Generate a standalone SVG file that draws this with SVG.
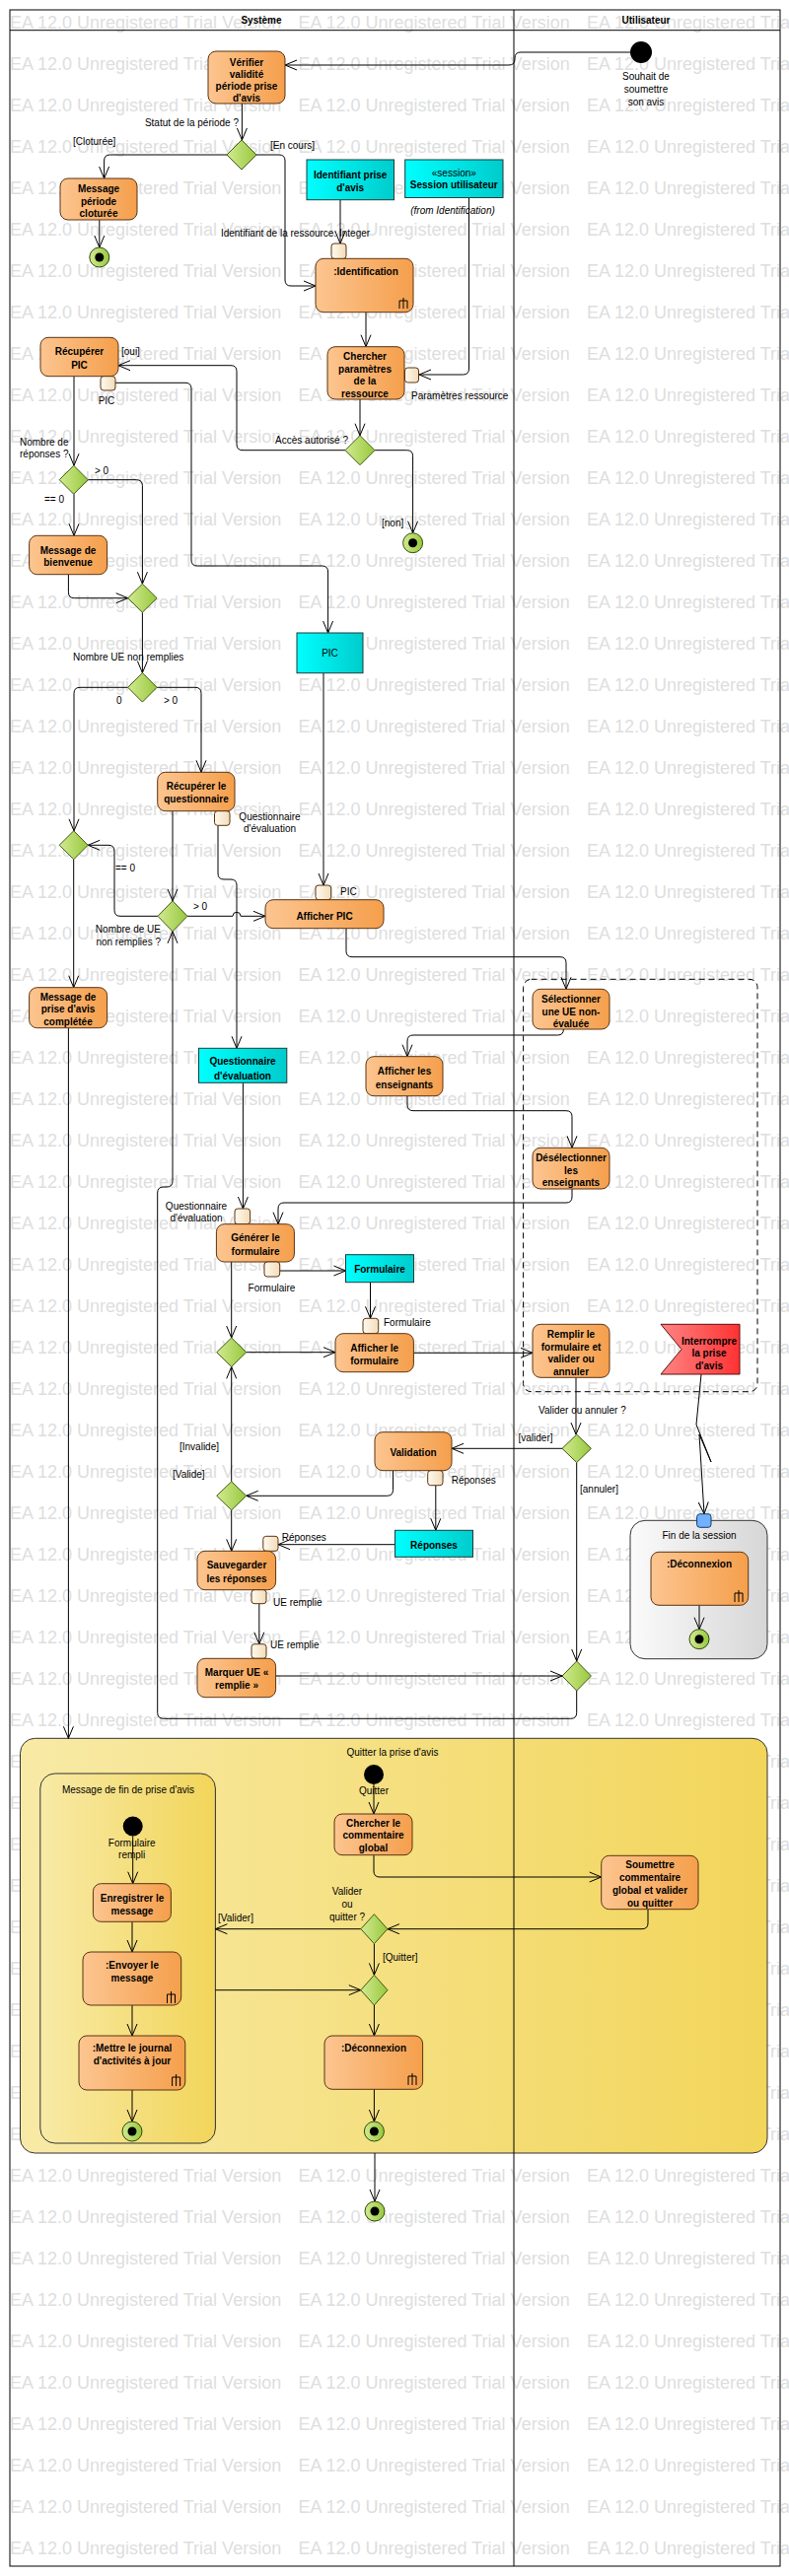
<svg xmlns="http://www.w3.org/2000/svg" xmlns:xlink="http://www.w3.org/1999/xlink" width="800" height="2613" viewBox="0 0 800 2613">
<style>
.act{fill:url(#gOr);stroke:#5a3412;stroke-width:1}
.obj{fill:url(#gCy);stroke:#1d3b3b;stroke-width:1}
.dec{fill:url(#gGr);stroke:#3d5a10;stroke-width:1}
.pin{fill:url(#gPin);stroke:#5a3412;stroke-width:1}
.fin{fill:url(#gGr);stroke:#2e4a0c;stroke-width:1}
.ln{fill:none;stroke:#000;stroke-width:1;marker-end:url(#arr)}
.rk{fill:none;stroke:#000;stroke-width:1}
text{font-family:"Liberation Sans",Arial,sans-serif;font-size:10px;fill:#000}
.b{font-weight:bold}
.c{text-anchor:middle}
.e{text-anchor:end}
.i{font-style:italic}
text.wmt{font-size:18px;fill:#dedede}
</style>
<defs>
<linearGradient id="gOr" x1="0" y1="0" x2="1" y2="0"><stop offset="0" stop-color="#fcc590"/><stop offset="1" stop-color="#f59f4c"/></linearGradient>
<linearGradient id="gCy" x1="0" y1="0" x2="1" y2="0"><stop offset="0" stop-color="#00ffff"/><stop offset="1" stop-color="#00cccc"/></linearGradient>
<linearGradient id="gGr" x1="0" y1="0" x2="1" y2="0"><stop offset="0" stop-color="#d2ea90"/><stop offset="1" stop-color="#98c83e"/></linearGradient>
<linearGradient id="gPin" x1="0" y1="0" x2="1" y2="0"><stop offset="0" stop-color="#fffaf0"/><stop offset="1" stop-color="#f2dcb8"/></linearGradient>
<linearGradient id="gYe" x1="0" y1="0" x2="1" y2="0"><stop offset="0" stop-color="#f8eaa6"/><stop offset="1" stop-color="#f2d55a"/></linearGradient>
<linearGradient id="gGy" x1="0" y1="0" x2="1" y2="0"><stop offset="0" stop-color="#fbfbfb"/><stop offset="1" stop-color="#d6d6d6"/></linearGradient>
<linearGradient id="gRd" x1="0" y1="0" x2="1" y2="0"><stop offset="0" stop-color="#ff8484"/><stop offset="1" stop-color="#ff3232"/></linearGradient>
<marker id="arr" markerWidth="14" markerHeight="12" refX="13" refY="6" orient="auto" markerUnits="userSpaceOnUse"><path d="M1,1 L13,6 L1,11" fill="none" stroke="#000" stroke-width="1"/></marker>
<g id="wmrow"><text class="wmt" x="10" font-size="18" fill="#dedede">EA 12.0 Unregistered Trial Version</text><text class="wmt" x="302.5" font-size="18" fill="#dedede">EA 12.0 Unregistered Trial Version</text><text class="wmt" x="595" font-size="18" fill="#dedede">EA 12.0 Unregistered Trial Version</text></g>
</defs>
<rect width="800" height="2613" fill="#ffffff"/>
<g id="watermark">
<use xlink:href="#wmrow" y="29.3"/><use xlink:href="#wmrow" y="71.3"/><use xlink:href="#wmrow" y="113.3"/><use xlink:href="#wmrow" y="155.3"/><use xlink:href="#wmrow" y="197.3"/><use xlink:href="#wmrow" y="239.3"/><use xlink:href="#wmrow" y="281.3"/><use xlink:href="#wmrow" y="323.3"/><use xlink:href="#wmrow" y="365.3"/><use xlink:href="#wmrow" y="407.3"/><use xlink:href="#wmrow" y="449.3"/><use xlink:href="#wmrow" y="491.3"/><use xlink:href="#wmrow" y="533.3"/><use xlink:href="#wmrow" y="575.3"/><use xlink:href="#wmrow" y="617.3"/><use xlink:href="#wmrow" y="659.3"/><use xlink:href="#wmrow" y="701.3"/><use xlink:href="#wmrow" y="743.3"/><use xlink:href="#wmrow" y="785.3"/><use xlink:href="#wmrow" y="827.3"/><use xlink:href="#wmrow" y="869.3"/><use xlink:href="#wmrow" y="911.3"/><use xlink:href="#wmrow" y="953.3"/><use xlink:href="#wmrow" y="995.3"/><use xlink:href="#wmrow" y="1037.3"/><use xlink:href="#wmrow" y="1079.3"/><use xlink:href="#wmrow" y="1121.3"/><use xlink:href="#wmrow" y="1163.3"/><use xlink:href="#wmrow" y="1205.3"/><use xlink:href="#wmrow" y="1247.3"/><use xlink:href="#wmrow" y="1289.3"/><use xlink:href="#wmrow" y="1331.3"/><use xlink:href="#wmrow" y="1373.3"/><use xlink:href="#wmrow" y="1415.3"/><use xlink:href="#wmrow" y="1457.3"/><use xlink:href="#wmrow" y="1499.3"/><use xlink:href="#wmrow" y="1541.3"/><use xlink:href="#wmrow" y="1583.3"/><use xlink:href="#wmrow" y="1625.3"/><use xlink:href="#wmrow" y="1667.3"/><use xlink:href="#wmrow" y="1709.3"/><use xlink:href="#wmrow" y="1751.3"/><use xlink:href="#wmrow" y="1793.3"/><use xlink:href="#wmrow" y="1835.3"/><use xlink:href="#wmrow" y="1877.3"/><use xlink:href="#wmrow" y="1919.3"/><use xlink:href="#wmrow" y="1961.3"/><use xlink:href="#wmrow" y="2003.3"/><use xlink:href="#wmrow" y="2045.3"/><use xlink:href="#wmrow" y="2087.3"/><use xlink:href="#wmrow" y="2129.3"/><use xlink:href="#wmrow" y="2171.3"/><use xlink:href="#wmrow" y="2213.3"/><use xlink:href="#wmrow" y="2255.3"/><use xlink:href="#wmrow" y="2297.3"/><use xlink:href="#wmrow" y="2339.3"/><use xlink:href="#wmrow" y="2381.3"/><use xlink:href="#wmrow" y="2423.3"/><use xlink:href="#wmrow" y="2465.3"/><use xlink:href="#wmrow" y="2507.3"/><use xlink:href="#wmrow" y="2549.3"/><use xlink:href="#wmrow" y="2591.3"/>
</g>

<g id="quitter_prise_avis">
<rect x="20.5" y="1763.3" width="757.5" height="420.7" rx="15" fill="url(#gYe)" stroke="#333" stroke-width="1"/>
<text x="398" y="1780.8" class="c">Quitter la prise d'avis</text>
</g>
<g id="message_fin_prise_avis">
<rect x="40.8" y="1799" width="177.6" height="375" rx="15" fill="url(#gYe)" stroke="#333" stroke-width="1"/>
<text x="130" y="1818.5" class="c">Message de fin de prise d'avis</text>
</g>
<g id="fin_session">
<rect x="639" y="1542.3" width="139" height="140.4" rx="15" fill="url(#gGy)" stroke="#333" stroke-width="1"/>
<text x="709" y="1561.2" class="c">Fin de la session</text>
</g>
<g id="region_interruptible">
<rect x="530.6" y="993.3" width="237.4" height="418.4" rx="8" fill="none" stroke="#000" stroke-width="1" stroke-dasharray="6,4"/>
</g>

<g id="lanes">
<rect x="10" y="10" width="781" height="2593" fill="none" stroke="#000" stroke-width="1"/>
<line x1="10" y1="30.7" x2="791" y2="30.7" stroke="#000"/>
<line x1="521" y1="10" x2="521" y2="2603" stroke="#000"/>
<text x="265" y="23.5" class="c b">Système</text>
<text x="655" y="23.5" class="c b">Utilisateur</text>
</g>

<g id="connectors">
<path class="ln" d="M639,53 H528 Q522,53 522,59 V60 Q522,66 516,66 H289"/>
<path class="ln" d="M245.4,105 V142"/>
<path class="ln" d="M230,157 H111.6 Q105.6,157 105.6,163 V181"/>
<path class="ln" d="M260,157 H283 Q289,157 289,163 V284 Q289,290 295,290 H320"/>
<path class="ln" d="M100.8,222.7 V251"/>
<path class="ln" d="M345,202.7 V247"/>
<path class="ln" d="M371,316.7 V351.7"/>
<path class="ln" d="M475.5,200.7 V374 Q475.5,380 469.5,380 H425"/>
<path class="ln" d="M365,405 V441.7"/>
<path class="ln" d="M380,456.7 H412.6 Q418.6,456.7 418.6,462.7 V540.7"/>
<path class="ln" d="M350,456.7 H246 Q240,456.7 240,450.7 V376.7 Q240,370.7 234,370.7 H120"/>
<path class="ln" d="M75,381.7 V472.2"/>
<path class="ln" d="M89.2,486.7 H138.4 Q144.4,486.7 144.4,492.7 V592.2"/>
<path class="ln" d="M75,501.2 V543.3"/>
<path class="ln" d="M69.4,582.7 V600.7 Q69.4,606.7 75.4,606.7 H129.7"/>
<path class="ln" d="M144.4,621.2 V682.5"/>
<path class="ln" d="M117,388.3 H188 Q194,388.3 194,394.3 V568 Q194,574 200,574 H326.6 Q332.6,574 332.6,580 V642"/>
<path class="ln" d="M129.7,697.3 H81 Q75,697.3 75,703.3 V842.8"/>
<path class="ln" d="M159.1,697.3 H198 Q204,697.3 204,703.3 V783.3"/>
<path class="ln" d="M328,682.7 V898"/>
<path class="ln" d="M221,837.3 V886 Q221,892 227,892 H234 Q240,892 240,898 V1063.3"/>
<path class="ln" d="M175,822.7 V913.8"/>
<path class="ln" d="M190,929.3 H236 A4,4 0 0 1 244,929.3 H269"/>
<path class="ln" d="M160,929.3 H122 Q116,929.3 116,923.3 V863.3 Q116,857.3 110,857.3 H89.2"/>
<path class="ln" d="M74.7,871.8 V1001.7"/>
<path class="ln" d="M69.4,1042.7 V1763.3"/>
<path class="ln" d="M351,941.7 V964.7 Q351,970.7 357,970.7 H568 Q574,970.7 574,976.7 V1003.3"/>
<path class="ln" d="M571.4,1044 Q571.4,1050 565.4,1050 H419 Q413,1050 413,1056 V1071.7"/>
<path class="ln" d="M413,1111.7 V1120.7 Q413,1126.7 419,1126.7 H574 Q580,1126.7 580,1132.7 V1164.3"/>
<path class="ln" d="M580,1206 V1214 Q580,1220 574,1220 H288 Q282,1220 282,1226 V1241.7"/>
<path class="ln" d="M246.4,1098.3 V1226"/>
<path class="ln" d="M283.7,1289 H350.5"/>
<path class="ln" d="M375.5,1300.7 V1337.3"/>
<path class="ln" d="M234.7,1280 V1357"/>
<path class="ln" d="M249.7,1371.7 H340"/>
<path class="ln" d="M419.4,1372.3 H540"/>
<path class="ln" d="M584,1397.3 V1455.1"/>
<path class="ln" d="M570,1469.3 H458"/>
<path class="ln" d="M398.5,1491.7 V1511.3 Q398.5,1517.3 392.5,1517.3 H249.7"/>
<path class="ln" d="M234.7,1502.8 V1386.4"/>
<path class="ln" d="M234.7,1531.8 V1573.3"/>
<path class="ln" d="M441.8,1506.7 V1552.3"/>
<path class="ln" d="M400.5,1566.7 H282"/>
<path class="ln" d="M262.8,1626.7 V1667.7"/>
<path class="ln" d="M279.6,1700 H570"/>
<path class="ln" d="M584.7,1483.5 V1685"/>
<path class="ln" d="M584.7,1715 V1737.3 Q584.7,1743.3 578.7,1743.3 H165.7 Q159.7,1743.3 159.7,1737.3 V1210 Q159.7,1204 165.7,1204 H169 Q175,1204 175,1198 V944.8"/>
<path class="ln" d="M711,1394 L706,1445 L721,1483 L709,1455 L714,1535.7"/>
<path class="ln" d="M709,1628.3 V1652.7"/>
<path class="ln" d="M379,1810 V1840"/>
<path class="ln" d="M379,1881.7 V1898 Q379,1904 385,1904 H609.7"/>
<path class="ln" d="M657,1936.7 V1950.7 Q657,1956.7 651,1956.7 H392.9"/>
<path class="ln" d="M365.9,1956.7 H218.4"/>
<path class="ln" d="M379.4,1971.7 V2003.4"/>
<path class="ln" d="M218.4,2018.7 H365.8"/>
<path class="ln" d="M379.4,2034 V2065"/>
<path class="ln" d="M379.4,2119.3 V2152"/>
<path class="ln" d="M134.7,1862.5 V1910.7"/>
<path class="ln" d="M134,1949.3 V1980"/>
<path class="ln" d="M134,2034 V2065"/>
<path class="ln" d="M134,2120 V2152"/>
<path class="ln" d="M380,2184 V2233"/>
</g>

<g id="connector_labels">
<text x="242" y="127.5" class="e">Statut de la période ?</text>
<text x="74" y="146.5">[Cloturée]</text>
<text x="274" y="150.5">[En cours]</text>
<text x="299.5" y="239.5" class="c">Identifiant de la ressource: Integer</text>
<text x="353" y="449.5" class="e">Accès autorisé ?</text>
<text x="387" y="534">[non]</text>
<text x="123" y="360">[oui]</text>
<text x="20" y="451.8">Nombre de</text>
<text x="20" y="464.2">réponses ?</text>
<text x="96" y="480.5">&gt; 0</text>
<text x="45" y="510">== 0</text>
<text x="74" y="669.5">Nombre UE non remplies</text>
<text x="118" y="714">0</text>
<text x="166" y="714">&gt; 0</text>
<text x="117" y="883.5">== 0</text>
<text x="196" y="922.5">&gt; 0</text>
<text x="163" y="946.2" class="e">Nombre de UE</text>
<text x="163" y="958.5" class="e">non remplies ?</text>
<text x="182" y="1470.8">[Invalide]</text>
<text x="175" y="1498.5">[Valide]</text>
<text x="546" y="1433.5">Valider ou annuler ?</text>
<text x="525.5" y="1461.8">[valider]</text>
<text x="588" y="1514.2">[annuler]</text>
<text x="352" y="1921.8" class="c">Valider</text>
<text x="352" y="1934.8" class="c">ou</text>
<text x="352" y="1947.5" class="c">quitter ?</text>
<text x="221" y="1949">[Valider]</text>
<text x="388" y="1988.5">[Quitter]</text>
</g>

<g id="n_debut">
<circle cx="650" cy="53" r="11" fill="#000"/>
<text x="655" y="80.5" class="c">Souhait de</text>
<text x="655" y="93.5" class="c">soumettre</text>
<text x="655" y="106.5" class="c">son avis</text>
</g>
<g id="n_verifier">
<rect class="act" x="211" y="52" width="78" height="53" rx="8"/>
<text x="250" y="66.5" class="c b">Vérifier</text>
<text x="250" y="78.5" class="c b">validité</text>
<text x="250" y="90.8" class="c b">période prise</text>
<text x="250" y="103" class="c b">d'avis</text>
</g>
<g id="n_statut"><polygon class="dec" points="245,142 260,157 245,172 230,157"/></g>
<g id="n_msg_cloturee">
<rect class="act" x="61" y="181" width="78" height="42" rx="8"/>
<text x="100" y="194.5" class="c b">Message</text>
<text x="100" y="207.5" class="c b">période</text>
<text x="100" y="220" class="c b">cloturée</text>
</g>
<g id="n_fin1"><circle class="fin" cx="100.8" cy="261" r="10"/><circle cx="100.8" cy="261" r="4.5" fill="#000"/></g>
<g id="n_identifiant">
<rect class="obj" x="311" y="162" width="88.5" height="40.7"/>
<text x="355.2" y="180.5" class="c b">Identifiant prise</text>
<text x="355.2" y="194" class="c b">d'avis</text>
</g>
<g id="n_session">
<rect class="obj" x="410.7" y="162" width="99.3" height="38.5"/>
<text x="460.3" y="178.5" class="c">«session»</text>
<text x="460.3" y="190.5" class="c b">Session utilisateur</text>
<text x="459" y="216.5" class="c i">(from Identification)</text>
</g>
<g id="n_identification">
<rect class="pin" x="336" y="247" width="15" height="15.5" rx="3"/>
<rect class="act" x="320" y="262.3" width="99" height="54.4" rx="8"/>
<text x="371" y="278.5" class="c b">:Identification</text>
<path class="rk" d="M409,302 V313 M405,305 H413 M405,305 V313 M413,305 V313"/>
</g>
<g id="n_chercher_param">
<rect class="act" x="332" y="351.7" width="78" height="53.3" rx="8"/>
<text x="370" y="364.5" class="c b">Chercher</text>
<text x="370" y="377.5" class="c b">paramètres</text>
<text x="370" y="390" class="c b">de la</text>
<text x="370" y="402.5" class="c b">ressource</text>
<rect class="pin" x="410.5" y="373" width="14" height="15" rx="3"/>
<text x="417" y="404.5">Paramètres ressource</text>
</g>
<g id="n_acces"><polygon class="dec" points="365,441.7 380,456.7 365,471.7 350,456.7"/></g>
<g id="n_fin_acces"><circle class="fin" cx="418.6" cy="550.7" r="10"/><circle cx="418.6" cy="550.7" r="4.5" fill="#000"/></g>
<g id="n_recup_pic">
<rect class="act" x="41" y="342.3" width="79" height="39.4" rx="8"/>
<text x="80.5" y="360" class="c b">Récupérer</text>
<text x="80.5" y="373.5" class="c b">PIC</text>
<rect class="pin" x="102" y="381.7" width="15" height="14.3" rx="3"/>
<text x="108" y="410" class="c">PIC</text>
</g>
<g id="n_nb_reponses"><polygon class="dec" points="74.7,472.2 89.2,486.7 74.7,501.2 60.2,486.7"/></g>
<g id="n_bienvenue">
<rect class="act" x="29.6" y="543.3" width="79" height="39.4" rx="8"/>
<text x="69" y="561.8" class="c b">Message de</text>
<text x="69" y="574.2" class="c b">bienvenue</text>
</g>
<g id="n_fusion1"><polygon class="dec" points="144.4,592.2 159.1,606.7 144.4,621.2 129.7,606.7"/></g>
<g id="n_nb_ue"><polygon class="dec" points="144.4,682.5 159.1,697.3 144.4,712.1 129.7,697.3"/></g>
<g id="n_pic">
<rect class="obj" x="301" y="642" width="67" height="40.7"/>
<text x="334.5" y="665.5" class="c">PIC</text>
</g>
<g id="n_recup_quest">
<rect class="act" x="159.7" y="783.3" width="78.3" height="39.4" rx="8"/>
<text x="199" y="801.2" class="c b">Récupérer le</text>
<text x="199" y="814.2" class="c b">questionnaire</text>
<rect class="pin" x="217.5" y="822.7" width="15.5" height="14.6" rx="3"/>
<text x="273.5" y="831.8" class="c">Questionnaire</text>
<text x="273.5" y="844.2" class="c">d'évaluation</text>
</g>
<g id="n_fusion2"><polygon class="dec" points="74.7,842.8 89.2,857.3 74.7,871.8 60.2,857.3"/></g>
<g id="n_nb_ue2"><polygon class="dec" points="175,913.8 190,929.3 175,944.8 160,929.3"/></g>
<g id="n_afficher_pic">
<rect class="pin" x="320" y="898" width="15.7" height="14.7" rx="3"/>
<text x="345" y="907.5">PIC</text>
<rect class="act" x="269" y="912.7" width="120" height="29" rx="8"/>
<text x="329" y="932.5" class="c b">Afficher PIC</text>
</g>
<g id="n_msg_complete">
<rect class="act" x="29.6" y="1001.7" width="79" height="41" rx="8"/>
<text x="69" y="1014.5" class="c b">Message de</text>
<text x="69" y="1027.3" class="c b">prise d'avis</text>
<text x="69" y="1039.5" class="c b">complétée</text>
</g>
<g id="n_questionnaire">
<rect class="obj" x="201.5" y="1063.3" width="89.3" height="35"/>
<text x="246" y="1079.5" class="c b">Questionnaire</text>
<text x="246" y="1094.5" class="c b">d'évaluation</text>
</g>
<g id="n_generer">
<rect class="pin" x="238" y="1226" width="15.6" height="15.7" rx="3"/>
<text x="199" y="1226.8" class="c">Questionnaire</text>
<text x="199" y="1239.2" class="c">d'évaluation</text>
<rect class="act" x="219.4" y="1241.7" width="79" height="38.3" rx="8"/>
<text x="259" y="1259" class="c b">Générer le</text>
<text x="259" y="1272.5" class="c b">formulaire</text>
<rect class="pin" x="268" y="1280" width="15.7" height="15" rx="3"/>
<text x="275.5" y="1309.5" class="c">Formulaire</text>
</g>
<g id="n_formulaire">
<rect class="obj" x="350.5" y="1272.7" width="69" height="28"/>
<text x="385" y="1291.2" class="c b">Formulaire</text>
</g>
<g id="n_afficher_form">
<rect class="pin" x="368" y="1337.3" width="15.7" height="15.4" rx="3"/>
<text x="389" y="1345">Formulaire</text>
<rect class="act" x="340" y="1352.7" width="79.4" height="39" rx="8"/>
<text x="379.7" y="1370.8" class="c b">Afficher le</text>
<text x="379.7" y="1383.5" class="c b">formulaire</text>
</g>
<g id="n_fusion3"><polygon class="dec" points="234.7,1357 249.7,1371.7 234.7,1386.4 219.7,1371.7"/></g>
<g id="n_valide"><polygon class="dec" points="234.7,1502.8 249.7,1517.3 234.7,1531.8 219.7,1517.3"/></g>
<g id="n_validation">
<rect class="act" x="380" y="1452.7" width="78" height="39" rx="8"/>
<text x="419" y="1476.8" class="c b">Validation</text>
<rect class="pin" x="433.7" y="1491.7" width="15.3" height="15" rx="3"/>
<text x="457.7" y="1504.5">Réponses</text>
</g>
<g id="n_reponses">
<rect class="obj" x="400.5" y="1552.3" width="79" height="27"/>
<text x="440" y="1571" class="c b">Réponses</text>
</g>
<g id="n_sauvegarder">
<rect class="pin" x="266.8" y="1558.3" width="15.2" height="15" rx="3"/>
<text x="285.7" y="1562.5">Réponses</text>
<rect class="act" x="200" y="1573.3" width="79.6" height="39.4" rx="8"/>
<text x="240" y="1591.2" class="c b">Sauvegarder</text>
<text x="240" y="1604.5" class="c b">les réponses</text>
<rect class="pin" x="255" y="1612.7" width="15" height="14" rx="3"/>
<text x="277" y="1628.5">UE remplie</text>
</g>
<g id="n_marquer">
<rect class="pin" x="255" y="1667.7" width="15" height="14.6" rx="3"/>
<text x="274" y="1671.8">UE remplie</text>
<rect class="act" x="200" y="1682.3" width="79.6" height="39.4" rx="8"/>
<text x="240" y="1700.2" class="c b">Marquer UE «</text>
<text x="240" y="1712.8" class="c b">remplie »</text>
</g>
<g id="n_fusion4"><polygon class="dec" points="584.7,1685 599.4,1700 584.7,1715 570,1700"/></g>
<g id="n_selectionner">
<rect class="act" x="540" y="1003.3" width="78" height="40.7" rx="8"/>
<text x="579" y="1016.8" class="c b">Sélectionner</text>
<text x="579" y="1029.5" class="c b">une UE non-</text>
<text x="579" y="1041.5" class="c b">évaluée</text>
</g>
<g id="n_afficher_ens">
<rect class="act" x="371" y="1071.7" width="78" height="40" rx="8"/>
<text x="410" y="1090.2" class="c b">Afficher les</text>
<text x="410" y="1103.5" class="c b">enseignants</text>
</g>
<g id="n_deselect">
<rect class="act" x="540" y="1164.3" width="78" height="41.7" rx="8"/>
<text x="579" y="1177.8" class="c b">Désélectionner</text>
<text x="579" y="1190.8" class="c b">les</text>
<text x="579" y="1203" class="c b">enseignants</text>
</g>
<g id="n_remplir">
<rect class="act" x="540" y="1343.3" width="78" height="54" rx="8"/>
<text x="579" y="1356.8" class="c b">Remplir le</text>
<text x="579" y="1369.5" class="c b">formulaire et</text>
<text x="579" y="1382.2" class="c b">valider ou</text>
<text x="579" y="1394.8" class="c b">annuler</text>
</g>
<g id="n_valider_annuler"><polygon class="dec" points="584.7,1455.1 599.4,1469.3 584.7,1483.5 570,1469.3"/></g>
<g id="n_interrompre">
<polygon points="670,1343.3 750,1343.3 750,1394 670,1394 691,1368.7" fill="url(#gRd)" stroke="#5a1010" stroke-width="1"/>
<text x="719" y="1363.5" class="c b">Interrompre</text>
<text x="719" y="1376.2" class="c b">la prise</text>
<text x="719" y="1389.2" class="c b">d'avis</text>
</g>
<g id="n_fin_session_contenu">
<rect x="706.6" y="1535.7" width="14.4" height="13.6" rx="3" fill="#70b2ff" stroke="#1a3a6a" stroke-width="1"/>
<rect class="act" x="660" y="1574.3" width="98.7" height="54" rx="8"/>
<text x="709" y="1590" class="c b">:Déconnexion</text>
<path class="rk" d="M749,1613 V1625 M745,1616 H753 M745,1616 V1625 M753,1616 V1625"/>
<circle class="fin" cx="709" cy="1662.7" r="10"/><circle cx="709" cy="1662.7" r="4.5" fill="#000"/>
</g>
<g id="n_quitter_debut">
<circle cx="379" cy="1800" r="10" fill="#000"/>
<text x="379" y="1820" class="c">Quitter</text>
</g>
<g id="n_chercher_comm">
<rect class="act" x="339" y="1840" width="79" height="41.7" rx="8"/>
<text x="378.5" y="1852.5" class="c b">Chercher le</text>
<text x="378.5" y="1865" class="c b">commentaire</text>
<text x="378.5" y="1877.5" class="c b">global</text>
</g>
<g id="n_soumettre">
<rect class="act" x="609.7" y="1882.3" width="98.3" height="54.4" rx="8"/>
<text x="659" y="1895" class="c b">Soumettre</text>
<text x="659" y="1908" class="c b">commentaire</text>
<text x="659" y="1920.7" class="c b">global et valider</text>
<text x="659" y="1933.5" class="c b">ou quitter</text>
</g>
<g id="n_valider_quitter"><polygon class="dec" points="379.4,1941.7 392.9,1956.7 379.4,1971.7 365.9,1956.7"/></g>
<g id="n_fusion5"><polygon class="dec" points="379.4,2003.4 393,2018.7 379.4,2034 365.8,2018.7"/></g>
<g id="n_deconnexion">
<rect class="act" x="329" y="2065" width="99.6" height="54.3" rx="8"/>
<text x="379" y="2081" class="c b">:Déconnexion</text>
<path class="rk" d="M418,2103 V2115 M414,2106 H422 M414,2106 V2115 M422,2106 V2115"/>
</g>
<g id="n_fin_quitter"><circle class="fin" cx="379.4" cy="2162" r="10"/><circle cx="379.4" cy="2162" r="4.5" fill="#000"/></g>
<g id="n_msg_debut">
<circle cx="134.7" cy="1852.5" r="10" fill="#000"/>
<text x="133.7" y="1872.5" class="c">Formulaire</text>
<text x="133.7" y="1885.2" class="c">rempli</text>
</g>
<g id="n_enregistrer">
<rect class="act" x="94.4" y="1910.7" width="79" height="38.6" rx="8"/>
<text x="134" y="1929" class="c b">Enregistrer le</text>
<text x="134" y="1941.5" class="c b">message</text>
</g>
<g id="n_envoyer">
<rect class="act" x="84" y="1980" width="99.7" height="54" rx="8"/>
<text x="134" y="1996.8" class="c b">:Envoyer le</text>
<text x="134" y="2009.5" class="c b">message</text>
<path class="rk" d="M173.5,2020 V2032 M169.5,2023 H177.5 M169.5,2023 V2032 M177.5,2023 V2032"/>
</g>
<g id="n_journal">
<rect class="act" x="80" y="2065" width="107.8" height="55" rx="8"/>
<text x="134" y="2081" class="c b">:Mettre le journal</text>
<text x="134" y="2094" class="c b">d'activités à jour</text>
<path class="rk" d="M178.6,2104 V2116 M174.6,2107 H182.6 M174.6,2107 V2116 M182.6,2107 V2116"/>
</g>
<g id="n_fin_message"><circle class="fin" cx="134" cy="2162" r="10"/><circle cx="134" cy="2162" r="4.5" fill="#000"/></g>
<g id="n_fin_globale"><circle class="fin" cx="380" cy="2243" r="10"/><circle cx="380" cy="2243" r="4.5" fill="#000"/></g>
</svg>
